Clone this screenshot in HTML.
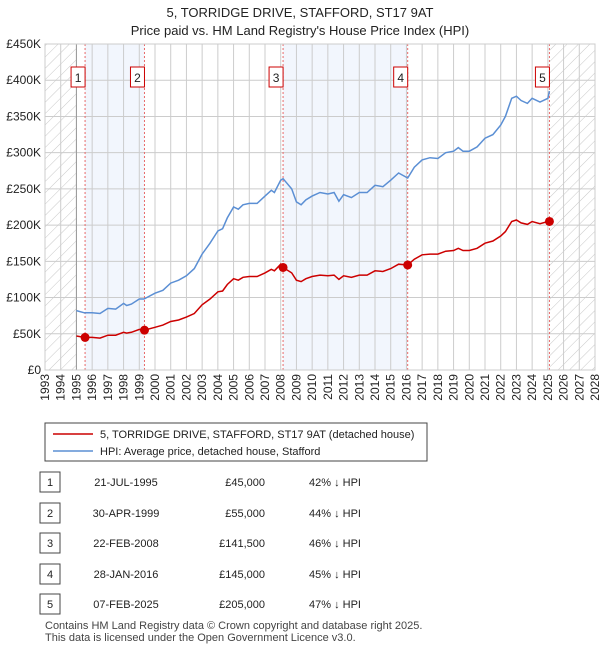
<!DOCTYPE html>
<html><head><meta charset="utf-8">
<style>
body{margin:0;background:#fff;font-family:"Liberation Sans","DejaVu Sans",sans-serif;}
#wrap{position:relative;width:600px;height:650px;overflow:hidden}
svg{position:absolute;left:0;top:0}
</style></head><body>
<div id="wrap">
<svg id="chart" width="600" height="650"></svg>
</div>
<script>
const hpiYears=[1995.0,1995.5,1996,1996.5,1997,1997.5,1998,1998.2,1998.5,1999,1999.3,2000,2000.5,2001,2001.5,2002,2002.5,2003,2003.5,2004,2004.3,2004.6,2005,2005.3,2005.6,2006,2006.5,2007,2007.4,2007.6,2008,2008.15,2008.7,2009,2009.3,2009.6,2010,2010.5,2011,2011.4,2011.7,2012,2012.5,2013,2013.5,2014,2014.5,2015,2015.5,2016.08,2016.5,2017,2017.5,2018,2018.5,2019,2019.3,2019.6,2020,2020.5,2021,2021.5,2022,2022.3,2022.7,2023,2023.3,2023.7,2024,2024.5,2025,2025.1];
const hpiValues=[82,79,79,78,85,84,92,89,91,98,98,106,110,120,124,130,140,160,175,192,195,210,225,222,228,230,230,240,248,245,262,264,250,232,228,235,240,245,243,245,233,242,238,245,245,255,253,262,272,265,280,290,293,292,300,302,307,302,302,308,320,325,338,350,375,378,372,368,375,370,375,385];
const priceValues=[47,45,45,44,48,48,52,51,52,56,55,59,62,67,69,73,78,90,98,108,109,118,126,124,128,129,129,134,139,137,146,141.5,134,124,122,126,129,131,130,131,125,130,128,131,131,137,136,140,146,145,153,159,160,160,164,165,168,165,165,168,175,178,185,191,205,207,203,201,205,202,205,205];
const saleYears=[1995.55,1999.33,2008.15,2016.08,2025.1];
const saleValues=[45,55,141.5,145,205];
const saleLabels=["1","2","3","4","5"];
const saleDates=["21-JUL-1995","30-APR-1999","22-FEB-2008","28-JAN-2016","07-FEB-2025"];
const salePrices=["£45,000","£55,000","£141,500","£145,000","£205,000"];
const saleHpi=["42% ↓ HPI","44% ↓ HPI","46% ↓ HPI","45% ↓ HPI","47% ↓ HPI"];
const yTicks=[0,50,100,150,200,250,300,350,400,450];
const yTickLabels=["£0","£50K","£100K","£150K","£200K","£250K","£300K","£350K","£400K","£450K"];

const X0=45,X1=595,Y0=370,Y1=44,YR0=1993,YR1=2028,VMAX=450;
const xs=y=>X0+(y-YR0)/(YR1-YR0)*(X1-X0);
const ys=v=>Y0-v/VMAX*(Y0-Y1);
const NS="http://www.w3.org/2000/svg";
const svg=document.getElementById('chart');
function mk(tag,at,parent){const e=document.createElementNS(NS,tag);for(const k in at)e.setAttribute(k,at[k]);(parent||svg).appendChild(e);return e;}
function txt(s,at,parent){const e=mk('text',at,parent);e.textContent=s;return e;}

const defs=mk('defs',{});
const pat=mk('pattern',{id:'hatch',width:8,height:8,patternUnits:'userSpaceOnUse',patternTransform:'rotate(45)'},defs);
mk('line',{x1:0,y1:0,x2:0,y2:8,stroke:'#c8c8c8','stroke-width':1},pat);

for(const [a,b] of [[0,1],[2,3]]){
 const r=mk('rect',{x:xs(saleYears[a]),y:Y1,width:xs(saleYears[b])-xs(saleYears[a]),height:Y0-Y1,fill:'#f2f6fd'});
 
 
}
let h=mk('rect',{x:X0,y:Y1,width:xs(1995)-X0,height:Y0-Y1,fill:'url(#hatch)'});

h=mk('rect',{x:xs(2025.1),y:Y1,width:X1-xs(2025.1),height:Y0-Y1,fill:'url(#hatch)'});


const grid=mk('g',{stroke:'#cccccc','stroke-width':1});

for(let yr=YR0;yr<=YR1;yr++){mk('line',{x1:xs(yr),x2:xs(yr),y1:Y1,y2:Y0},grid);}
yTicks.forEach(v=>mk('line',{x1:X0,x2:X1,y1:ys(v),y2:ys(v)},grid));
mk('line',{x1:xs(1995),x2:xs(1995),y1:Y1,y2:Y0,stroke:'#999'});

yTicks.forEach((v,i)=>{const t=txt(yTickLabels[i],{x:X0-4,y:ys(v)+4,'text-anchor':'end','font-size':12,fill:'#222'});
 });
for(let yr=YR0;yr<=YR1;yr++){const x=xs(yr)+4;const t=txt(String(yr),{x:x,y:374,transform:`rotate(-90 ${x} 374)`,'text-anchor':'end','font-size':12,fill:'#222'});
 }

saleYears.forEach((yr,i)=>{const l=mk('line',{x1:xs(yr),x2:xs(yr),y1:Y1,y2:Y0,stroke:'#e86a6a','stroke-dasharray':'2,2','stroke-width':1});
 });

const pts=(vals)=>hpiYears.map((yr,i)=>xs(yr).toFixed(1)+','+ys(vals[i]).toFixed(1)).join(' ');
let p=mk('polyline',{points:pts(hpiValues),fill:'none',stroke:'#5b8fd4','stroke-width':1.5});

p=mk('polyline',{points:pts(priceValues),fill:'none',stroke:'#cc0000','stroke-width':1.5});


saleYears.forEach((yr,i)=>{
 const c=mk('circle',{cx:xs(yr),cy:ys(saleValues[i]),r:4.5,fill:'#cc0000'});
 
 const g=mk('g',{});
 
 mk('rect',{x:xs(yr)-14,y:67,width:14,height:20,fill:'#fff',stroke:'#cc0000','stroke-width':1},g);
 txt(saleLabels[i],{x:xs(yr)-7,y:82,'text-anchor':'middle','font-size':12,fill:'#222'},g);
});
mk('rect',{x:X0,y:Y1,width:X1-X0,height:Y0-Y1,fill:'none',stroke:'#ccc'});

let t=txt('5, TORRIDGE DRIVE, STAFFORD, ST17 9AT',{x:300,y:17,'text-anchor':'middle','font-size':13,fill:'#222'});

t=txt("Price paid vs. HM Land Registry's House Price Index (HPI)",{x:300,y:35,'text-anchor':'middle','font-size':13,fill:'#222'});


const lg=mk('g',{});
mk('rect',{x:45,y:423,width:382,height:38,fill:'#fff',stroke:'#444'},lg);
mk('line',{x1:53,x2:93,y1:434,y2:434,stroke:'#cc0000','stroke-width':1.5},lg);
txt('5, TORRIDGE DRIVE, STAFFORD, ST17 9AT (detached house)',{x:100,y:438,'font-size':11,fill:'#222'},lg);
mk('line',{x1:53,x2:93,y1:451,y2:451,stroke:'#5b8fd4','stroke-width':1.5},lg);
txt('HPI: Average price, detached house, Stafford',{x:100,y:455,'font-size':11,fill:'#222'},lg);

const rowY=[482,513,543,574,604];
saleLabels.forEach((lab,i)=>{
 const g=mk('g',{});
 const y=rowY[i];
 mk('rect',{x:40,y:y-10,width:20,height:20,fill:'#fff',stroke:'#444'},g);
 txt(lab,{x:50,y:y+4,'text-anchor':'middle','font-size':11,fill:'#222'},g);
 txt(saleDates[i],{x:126,y:y+4,'text-anchor':'middle','font-size':11,fill:'#222'},g);
 txt(salePrices[i],{x:265,y:y+4,'text-anchor':'end','font-size':11,fill:'#222'},g);
 txt(saleHpi[i],{x:335,y:y+4,'text-anchor':'middle','font-size':11,fill:'#222'},g);
});
t=txt('Contains HM Land Registry data © Crown copyright and database right 2025.',{x:45,y:629,'font-size':11,fill:'#444'});

t=txt('This data is licensed under the Open Government Licence v3.0.',{x:45,y:641,'font-size':11,fill:'#444'});

</script>
</body></html>
